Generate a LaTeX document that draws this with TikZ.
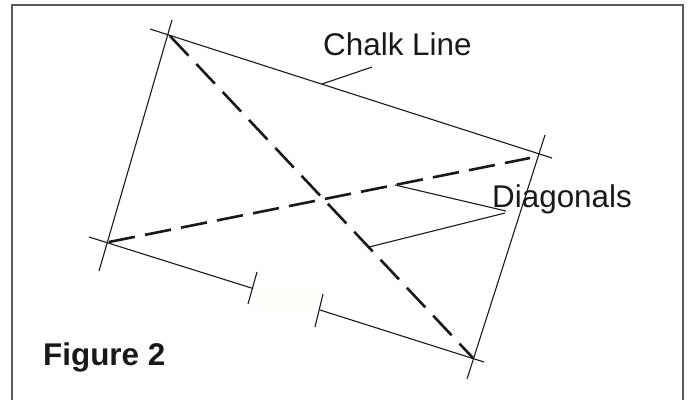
\documentclass[tikz,border=0pt]{standalone}
\usepackage{fontspec}
\setmainfont{Liberation Sans}
\definecolor{framegray}{gray}{0.35}
\definecolor{inkblack}{gray}{0.1}
\definecolor{patchcream}{RGB}{255,254,251}
\tikzset{
    chalk/.style={draw=inkblack,line width=1.1pt},
    diagonal/.style={draw=inkblack,line width=2.6pt},
    caption/.style={text=inkblack,font=\fontsize{31.4}{34}\selectfont,inner sep=0pt,anchor=base west}
}
\begin{document}
\begin{tikzpicture}[x=1pt,y=-1pt]
    \useasboundingbox (0,0) rectangle (688,400);
    \draw[framegray,line width=1.8pt] (12,400) -- (12,5) -- (683,5) -- (683,400);
    \fill[patchcream] (255,286) rectangle (318,310);
    % corners
    \coordinate (tl) at (170,36);
    \coordinate (bl) at (109,242);
    \coordinate (tr) at (530,158);
    \coordinate (br) at (473,358);
    % chalk lines
    \draw[chalk] (150,29) -- (552,158);
    \draw[chalk] (172,20) -- (99,271);
    \draw[chalk] (545,135) -- (467,379);
    \draw[chalk] (89,237) -- (253,288.5);
    \draw[chalk] (320,310) -- (484,362);
    \draw[chalk] (257,272) -- (248,304);
    \draw[chalk] (323,294) -- (315,327);
    % diagonals
    \draw[diagonal,dash pattern=on 27pt off 11.4pt] (tl) -- (br);
    \draw[diagonal,dash pattern=on 26.5pt off 10.2pt] (bl) -- (tr);
    % labels
    \node[caption] (chalklabel) at (323,55) {Chalk Line};
    \node[caption] (diaglabel) at (492,207) {Diagonals};
    \node[caption,font=\fontsize{31.4}{34}\selectfont\bfseries] (figlabel) at (43,365) {Figure 2};
    % leaders
    \coordinate (chalkfoot) at (322,84);
    \coordinate (diagA) at (395,185);
    \coordinate (diagB) at (369,247);
    \draw[chalk] (chalkfoot) -- (372,67);
    \draw[chalk] (diagA) -- (506,211);
    \draw[chalk] (diagB) -- (505,213);
\end{tikzpicture}
\end{document}
